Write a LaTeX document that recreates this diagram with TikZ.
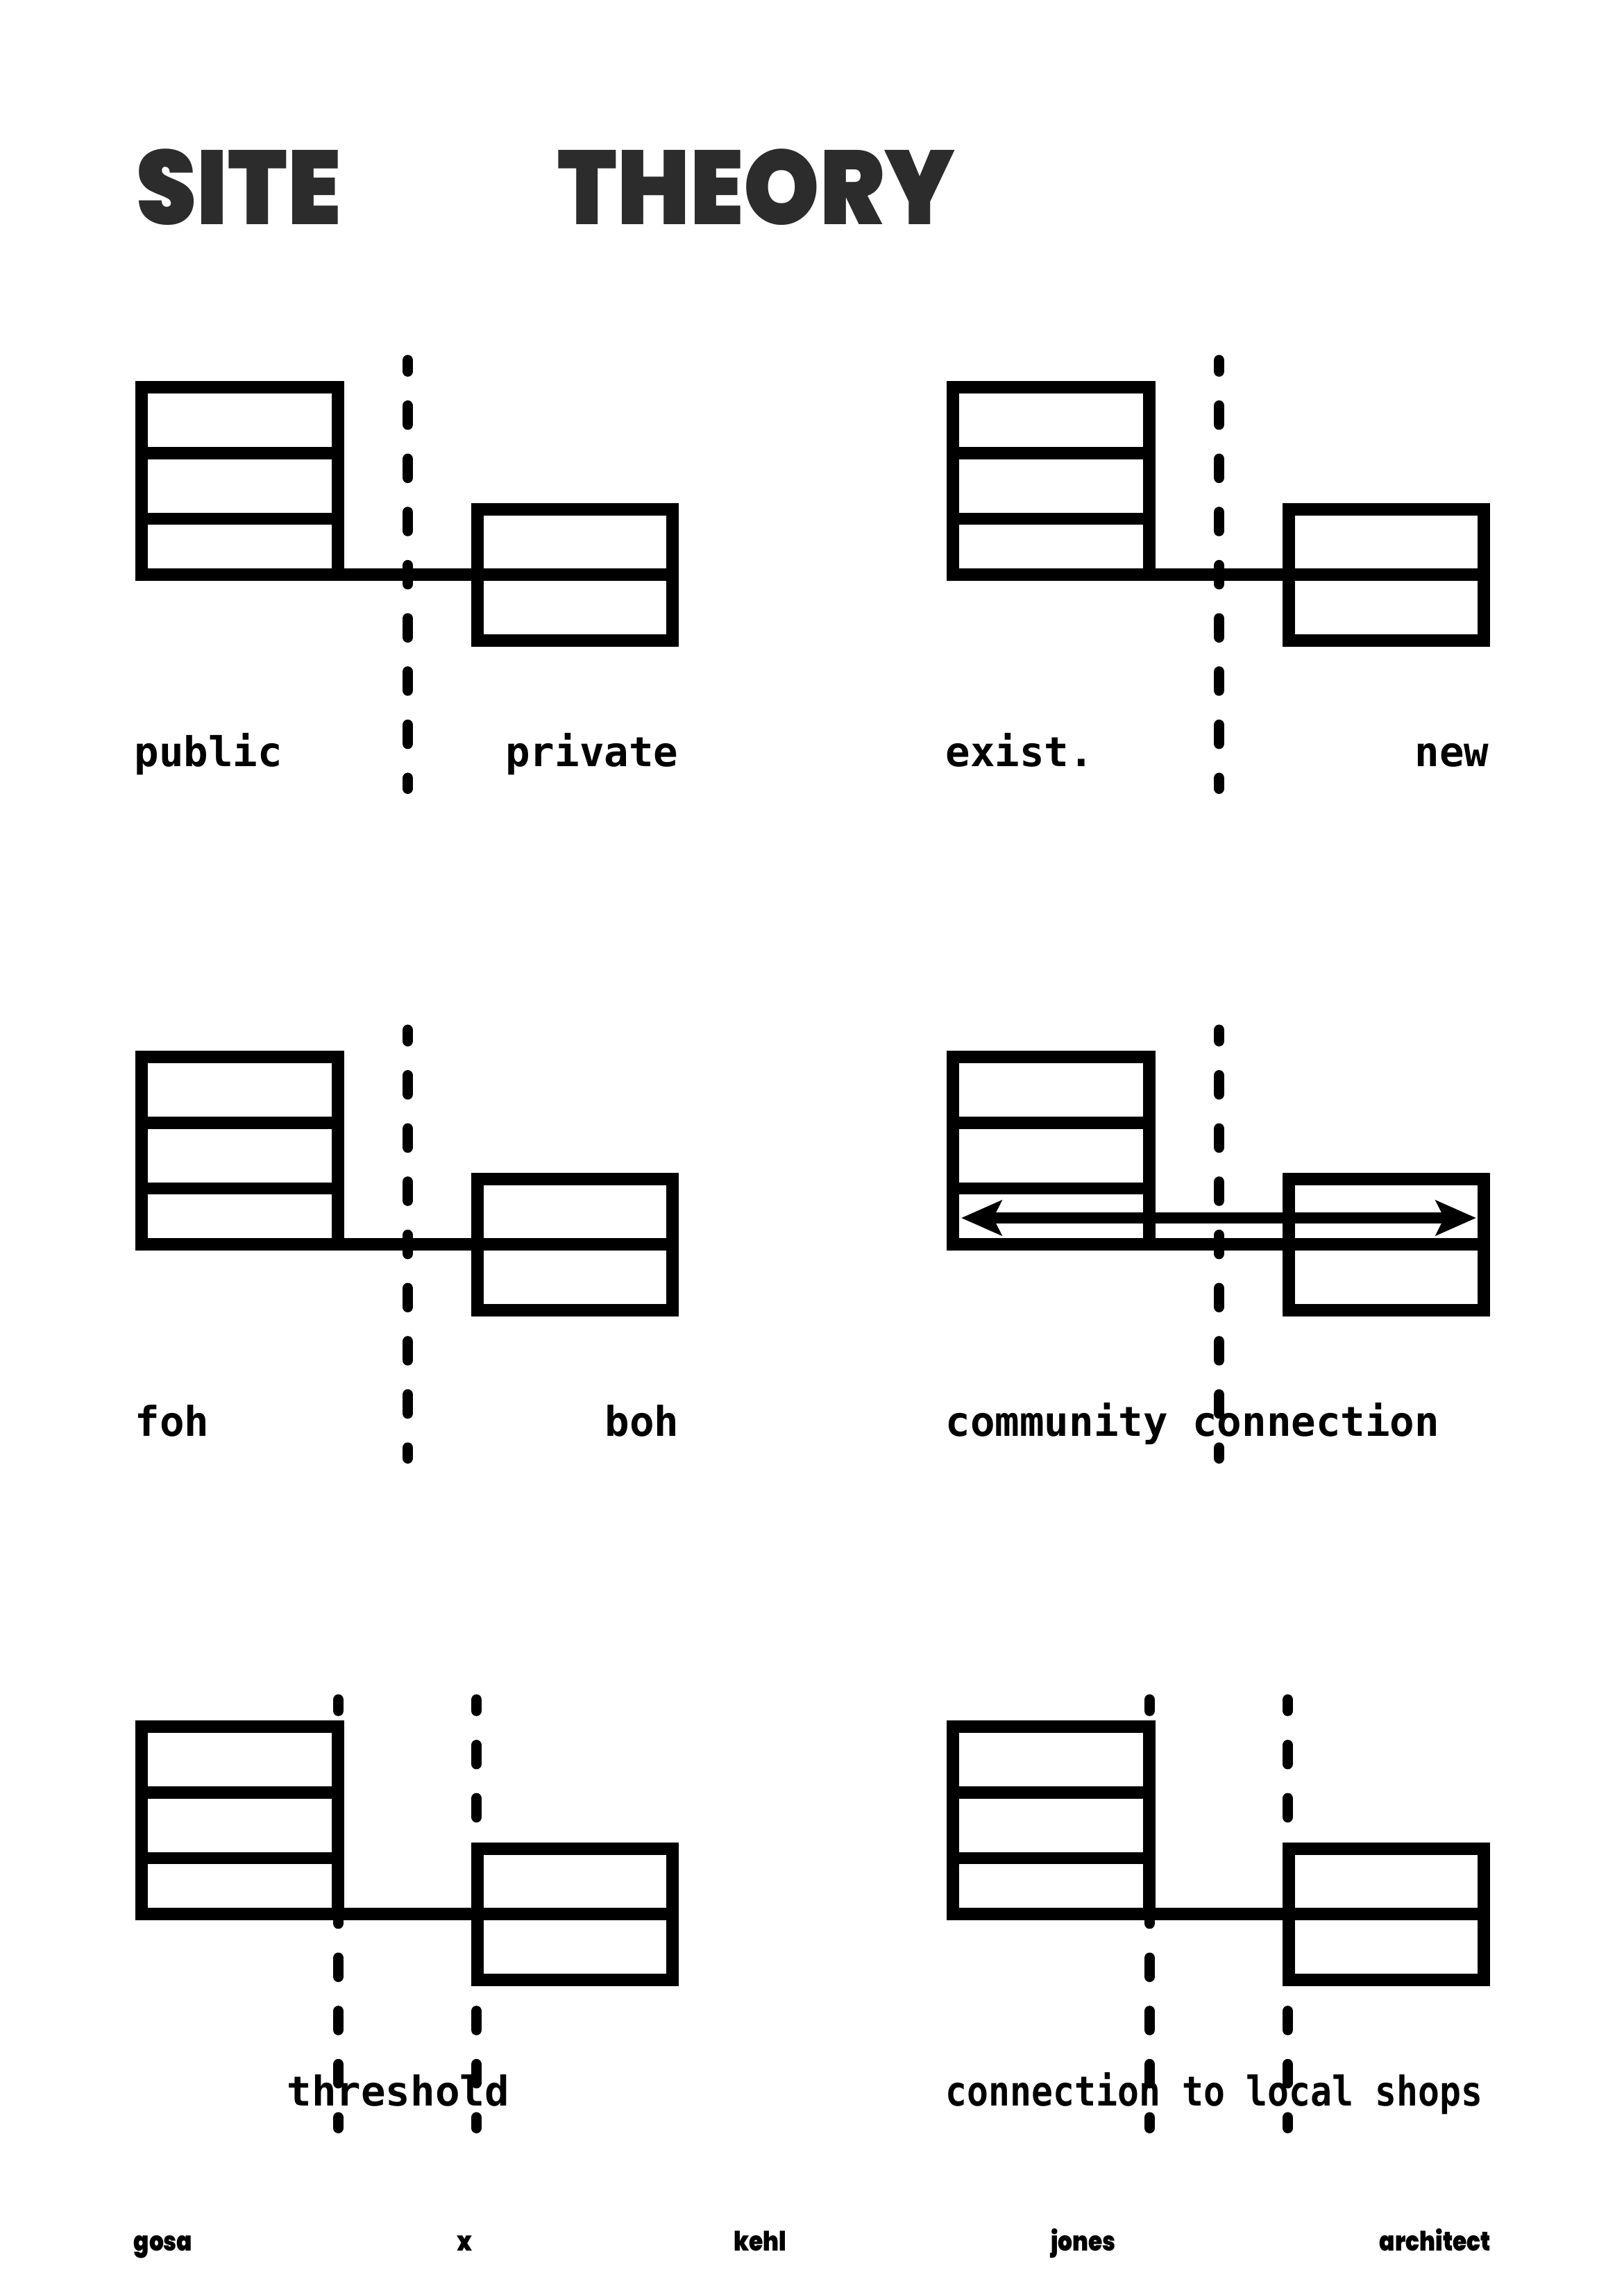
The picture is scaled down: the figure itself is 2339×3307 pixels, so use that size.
\documentclass[tikz,border=0pt]{standalone}
\usepackage{fontspec}
\usetikzlibrary{arrows.meta}
\newfontfamily\labelfont{DejaVu Sans Mono}
\IfFontExistsTF{Poppins ExtraBold}{\newfontfamily\titlefont{Poppins ExtraBold}}{\newfontfamily\titlefont{Poppins}}
\definecolor{titlegray}{RGB}{44,44,44}
\tikzset{
  wall/.style={line width=0.175cm},
  sepline/.style={line width=0.156cm, line cap=round, dash pattern=on 0.269cm off 0.497cm, dash phase=0.111cm},
  lbl/.style={inner sep=0pt, font=\labelfont\bfseries\fontsize{16.8}{20}\selectfont},
  foot/.style={inner sep=0pt, anchor=base, font=\titlefont\bfseries\fontsize{11}{13}\selectfont},
  ttl/.style={inner sep=0pt, anchor=base west, text=titlegray, font=\titlefont\bfseries\fontsize{43}{50}\selectfont},
  conn/.style={line width=0.16cm, arrows={Stealth[length=0.58cm,width=0.5cm,inset=0.12cm]-Stealth[length=0.58cm,width=0.5cm,inset=0.12cm]}},
  building/.pic={
    \draw[wall] (204,558) rectangle (487,828);
    \draw[wall] (204,653) -- (487,653);
    \draw[wall] (204,747.5) -- (487,747.5);
    \draw[wall] (688,734) rectangle (969,923);
    \draw[wall] (487,828) -- (969,828);
  }
}
\begin{document}
\begin{tikzpicture}[x=0.01cm,y=-0.01cm]
\useasboundingbox[fill=white] (0,0) rectangle (2339,3307);
% title
\node[ttl] (tsite) at (196,324) {\scalebox{0.92}[1]{SITE}};
\node[ttl] (ttheory) at (803,324) {\scalebox{0.92}[1]{THEORY}};
% buildings
\pic at (0,0) {building};
\pic at (1169,0) {building};
\pic at (0,965) {building};
\pic at (1169,965) {building};
\pic at (0,1930) {building};
\pic at (1169,1930) {building};
% separator lines
\coordinate (a1) at (587.6,519.2);  \coordinate (b1) at (587.6,1136.2);
\coordinate (a2) at (1756.6,519.2); \coordinate (b2) at (1756.6,1136.2);
\coordinate (a3) at (587.6,1484.2); \coordinate (b3) at (587.6,2101.2);
\coordinate (a4) at (1756.6,1484.2); \coordinate (b4) at (1756.6,2101.2);
\coordinate (a5) at (487.5,2449.2); \coordinate (b5) at (487.5,3066.2);
\coordinate (c5) at (686.5,2449.2); \coordinate (d5) at (686.5,3066.2);
\coordinate (a6) at (1656.5,2449.2); \coordinate (b6) at (1656.5,3066.2);
\coordinate (c6) at (1855.5,2449.2); \coordinate (d6) at (1855.5,3066.2);
\draw[sepline] (a1) -- (b1);
\draw[sepline] (a2) -- (b2);
\draw[sepline] (a3) -- (b3);
\draw[sepline] (a4) -- (b4);
\draw[sepline] (a5) -- (b5);
\draw[sepline] (c5) -- (d5);
\draw[sepline] (a6) -- (b6);
\draw[sepline] (c6) -- (d6);
% community connection arrow
\coordinate (ccl) at (1385,1755);
\coordinate (ccr) at (2127,1755);
\draw[conn] (ccl) -- (ccr);
% labels
\node[lbl, anchor=base west] (l1) at (193,1104) {public};
\node[lbl, anchor=base east] (r1) at (978,1104) {private};
\node[lbl, anchor=base west] (l2) at (1362,1104) {exist.};
\node[lbl, anchor=base east] (r2) at (2146,1104) {new};
\node[lbl, anchor=base west] (l3) at (194,2069) {foh};
\node[lbl, anchor=base east] (r3) at (979,2069) {boh};
\node[lbl, anchor=base west] (l4) at (1362,2069) {community connection};
\node[lbl, anchor=base west] (l5) at (413,3034) {threshold};
\node[lbl, anchor=base west] (l6) at (1362,3034) {\scalebox{0.87}[1]{connection to local shops}};
% footer
\node[foot] (f1) at (235,3243) {\scalebox{0.85}[1]{gosa}};
\node[foot] (f2) at (669,3243) {\scalebox{0.85}[1]{x}};
\node[foot] (f3) at (1095,3243) {\scalebox{0.85}[1]{kehl}};
\node[foot] (f4) at (1561,3243) {\scalebox{0.85}[1]{jones}};
\node[foot] (f5) at (2068,3243) {\scalebox{0.85}[1]{architect}};
\end{tikzpicture}
\end{document}
